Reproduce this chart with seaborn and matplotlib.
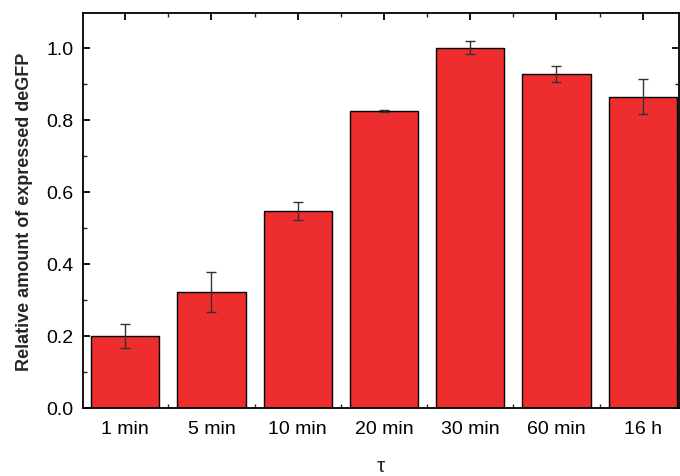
import matplotlib
matplotlib.use("Agg")
import matplotlib.pyplot as plt
import seaborn as sns
import pandas as pd
import numpy as np
from matplotlib.ticker import MultipleLocator, FixedLocator

categories = ["1 min", "5 min", "10 min", "20 min", "30 min", "60 min", "16 h"]
values = [0.200, 0.322, 0.547, 0.825, 1.000, 0.928, 0.865]
errors = [0.033, 0.056, 0.026, 0.004, 0.018, 0.023, 0.049]

sns.set_theme(style="ticks")
plt.rcParams['font.family'] = ['Liberation Sans', 'DejaVu Sans']

df = pd.DataFrame({"tau": categories, "value": values, "err": errors})

fig = plt.figure(figsize=(6.8, 4.77), dpi=100)
ax = fig.add_axes([0.122, 0.1426, 0.8765, 0.828])

sns.barplot(data=df, x="tau", y="value", order=categories, color="#EE2E2E",
            saturation=1, width=0.79, edgecolor="black", linewidth=1.0,
            errorbar=None, ax=ax)
ax.errorbar(x=np.arange(len(categories)), y=df["value"], yerr=df["err"],
            fmt="none", ecolor="#333333", elinewidth=1.0, capsize=3.5, capthick=1.0)

ax.set_xlim(-0.49, 6.42)
ax.set_ylim(0, 1.097)
ax.yaxis.set_minor_locator(MultipleLocator(0.1))
ax.xaxis.set_minor_locator(FixedLocator(np.arange(-0.5, 7, 1.0)))
ax.set_yticks(np.arange(0, 1.01, 0.2))
ax.set_yticklabels([f"{v:.1f}" for v in np.arange(0, 1.01, 0.2)])

for s in ax.spines.values():
    s.set_visible(True)
    s.set_linewidth(1.3)
    s.set_color("black")

ax.tick_params(axis="both", which="major", direction="in", length=5, width=1.3,
               top=True, right=True, labelsize=14, colors="black", pad=7)
ax.tick_params(axis="both", which="minor", direction="in", length=3, width=1.0,
               top=True, right=True)
ax.tick_params(axis="x", which="major", pad=9)

ax.set_xlabel("τ", fontsize=15, labelpad=13)
ax.set_ylabel("Relative amount of expressed deGFP", fontsize=13,
              fontweight="bold", labelpad=9)

fig.savefig("out.png", dpi=100)
